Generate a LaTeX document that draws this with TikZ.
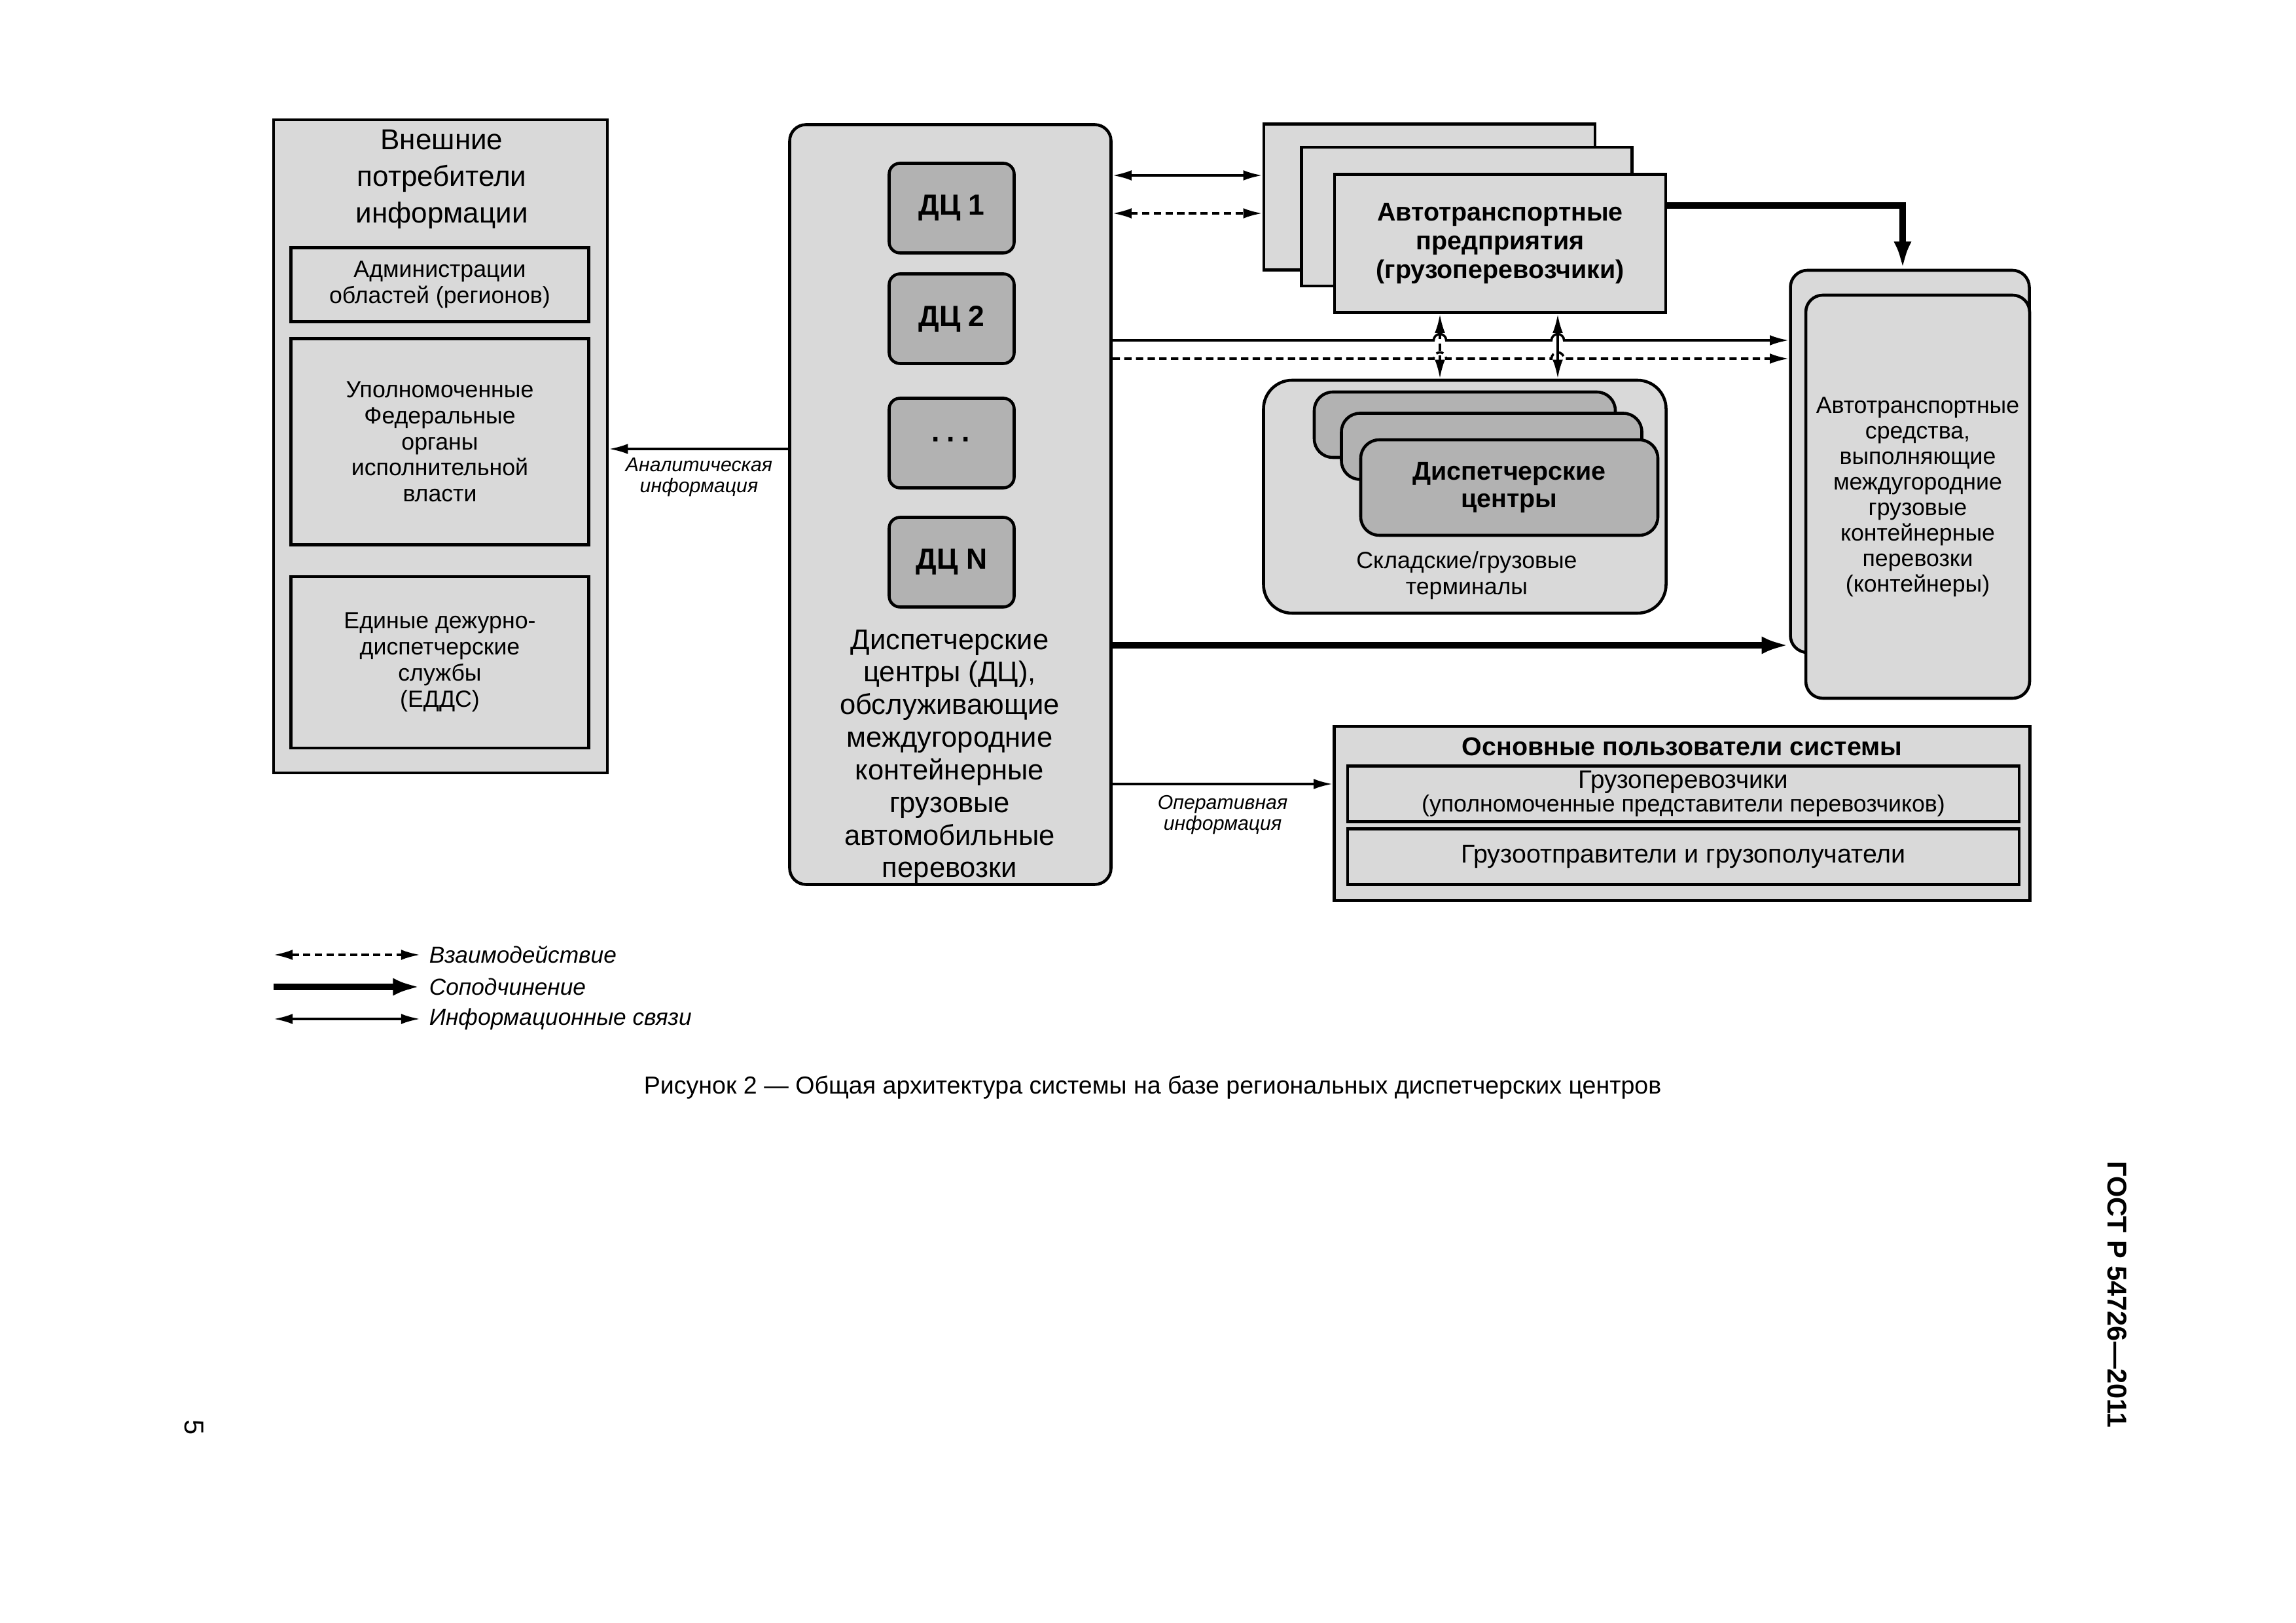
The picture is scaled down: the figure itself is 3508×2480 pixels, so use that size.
\documentclass[tikz,border=0pt]{standalone}
\usepackage{fontspec}
\setmainfont{Liberation Sans}
\usetikzlibrary{arrows.meta}

\begin{document}
\begin{tikzpicture}[x=0.0846667mm, y=-0.0846667mm, >={Latex[length=7pt,width=3.8pt]}]

% Define pixel length and hop radius
\def\px{0.0846667mm}
\def\hop{2.3pt}

% Define box colors
\definecolor{lightbox}{RGB}{217,217,217}
\definecolor{darkbox}{RGB}{178,178,178}

\tikzset{
  box/.style={draw, line width=1.1pt, fill=lightbox, inner sep=0pt, align=center},
  dcbox/.style={box, fill=darkbox, rounded corners=2.4mm},
  wh/.style 2 args={minimum width=#1*\px, minimum height=#2*\px},
  txt/.style={align=center, inner sep=0pt},
  note/.style={txt, font=\itshape\fontsize{7.3}{7.8}\selectfont},
  info/.style={line width=0.85pt},
  inter/.style={line width=0.85pt, dash pattern=on 2.7pt off 1.6pt},
  subord/.style={line width=2.2pt, -{Latex[length=10pt,width=6.5pt]}},
}

% Page frame
\useasboundingbox (0,0) rectangle (3508,2480);

% Draw external consumers of information
\node[box, wh={510}{998}] (ext) at (673,682) {};
\node[txt, font=\fontsize{10.6}{13.4}\selectfont] (extTitle) at (675,274) {Внешние\\потребители\\информации};
\node[box, wh={455}{113}, font=\fontsize{8.6}{9.6}\selectfont] (adm) at (672,435) {Администрации\\областей (регионов)};
\node[box, wh={455}{315}, font=\fontsize{8.6}{9.6}\selectfont] (fed) at (672,675) {Уполномоченные\\Федеральные\\органы\\исполнительной\\власти};
\node[box, wh={455}{262}, font=\fontsize{8.6}{9.6}\selectfont] (edds) at (672,1012) {Единые дежурно-\\диспетчерские\\службы\\(ЕДДС)};

% Draw dispatch centers block
\node[box, rounded corners=2.1mm, wh={491}{1161}] (dcs) at (1452,771) {};
\foreach \name/\txt/\ypos in {dc1/ДЦ 1/318, dc2/ДЦ 2/487, dcdots/{·\kern2pt·\kern2pt·}/677, dcn/ДЦ N/859}
  \node[dcbox, rounded corners=1.4mm, wh={191}{137}, font=\bfseries\fontsize{10.7}{13}\selectfont] (\name) at (1454,\ypos) {\txt};
\node[txt, font=\fontsize{10.5}{12}\selectfont] (dcsText) at (1451,1156) {Диспетчерские\\центры (ДЦ),\\обслуживающие\\междугородние\\контейнерные\\грузовые\\автомобильные\\перевозки};

% Draw motor transport enterprises as a stack
\node[box, wh={506}{223}] (at3) at (2184,301) {};
\node[box, wh={505}{212}] (at2) at (2241,331) {};
\node[box, wh={506}{211}, font=\bfseries\fontsize{9.5}{10.6}\selectfont] (at1) at (2292,372) {Автотранспортные\\предприятия\\(грузоперевозчики)};

% Draw vehicles as a stack
\node[box, rounded corners=2.2mm, wh={365}{584}] (veh2) at (2918,705) {};
\node[box, rounded corners=2.2mm, wh={342}{616}, font=\fontsize{8.6}{9.4}\selectfont] (veh1) at (2930,759) {Автотранспортные\\средства,\\выполняющие\\междугородние\\грузовые\\контейнерные\\перевозки\\(контейнеры)};

% Draw warehouse terminals with their dispatch centers
\node[box, rounded corners=3.7mm, wh={615}{356}] (term) at (2238,759) {};
\node[dcbox, wh={460}{100}] (tdc3) at (2238,649) {};
\node[dcbox, wh={459}{101}] (tdc2) at (2279,682) {};
\node[dcbox, wh={454}{146}, font=\bfseries\fontsize{9.5}{10.3}\selectfont] (tdc1) at (2306,745) {Диспетчерские\\центры};
\node[txt, font=\fontsize{8.6}{9.6}\selectfont] (termText) at (2241,879) {Складские/грузовые\\терминалы};

% Draw main users of the system
\node[box, wh={1063}{266}] (users) at (2570,1243) {};
\node[txt, font=\bfseries\fontsize{9.5}{11}\selectfont] (usersTitle) at (2570,1141) {Основные пользователи системы};
\node[box, wh={1026}{85}, font=\fontsize{8.6}{8.7}\selectfont] (carriers) at (2572,1213) {{\fontsize{9.3}{9}\selectfont Грузоперевозчики}\\(уполномоченные представители перевозчиков)};
\node[box, wh={1026}{85}, font=\fontsize{9.5}{10}\selectfont] (shippers) at (2572,1309) {Грузоотправители и грузополучатели};

% Levels and columns of the connectors
\coordinate (yAnal) at (0,686);
\coordinate (yATinfo) at (0,268);
\coordinate (yATinter) at (0,326);
\coordinate (ySub) at (0,314);
\coordinate (xSub) at (2907,0);
\coordinate (yInfo) at (0,520);
\coordinate (yInter) at (0,548);
\coordinate (xV1) at (2200,0);
\coordinate (xV2) at (2380,0);
\coordinate (ySub2) at (0,986);
\coordinate (yOper) at (0,1198);
\coordinate (hopA1) at (xV1 |- yInfo);
\coordinate (hopB1) at (xV2 |- yInfo);
\coordinate (hopA2) at (xV1 |- yInter);
\coordinate (hopB2) at (xV2 |- yInter);

% Analytic information to external consumers
\draw[info, ->] (dcs.west |- yAnal) -- (ext.east |- yAnal);
\node[note] (analLbl) at (1068,729) {Аналитическая\\информация};

% Links with motor transport enterprises
\draw[info, <->] (dcs.east |- yATinfo) -- (at3.west |- yATinfo);
\draw[inter, <->] (dcs.east |- yATinter) -- (at3.west |- yATinter);
\draw[subord] (at1.east |- ySub) -| (xSub |- veh2.north);

% Links to vehicles, hopping over the vertical arrows
\draw[info, ->] (dcs.east |- yInfo) -- ([xshift=-\hop]hopA1) arc[start angle=180, end angle=0, radius=\hop]
  -- ([xshift=-\hop]hopB1) arc[start angle=180, end angle=0, radius=\hop] -- (veh2.west |- yInfo);
\draw[inter, ->] (dcs.east |- yInter) -- ([xshift=-\hop]hopA2) arc[start angle=180, end angle=0, radius=\hop]
  -- ([xshift=-\hop]hopB2) arc[start angle=180, end angle=0, radius=\hop] -- (veh2.west |- yInter);
\draw[subord] (dcs.east |- ySub2) -- (veh2.west |- ySub2);

% Enterprises and terminals
\draw[inter, <->] (at1.south -| xV1) -- (term.north -| xV1);
\draw[info, <->] (at1.south -| xV2) -- (term.north -| xV2);

% Operative information to users
\draw[info, ->] (dcs.east |- yOper) -- (users.west |- yOper);
\node[note] (operLbl) at (1868,1245) {Оперативная\\информация};

% Legend
\coordinate (legA) at (418,1459);
\coordinate (legB) at (418,1508);
\coordinate (legC) at (418,1557);
\node[txt, anchor=west, inner xsep=13*\px, font=\itshape\fontsize{8.5}{10}\selectfont] (legInter) at (642,1459) {Взаимодействие};
\node[txt, anchor=west, inner xsep=13*\px, font=\itshape\fontsize{8.5}{10}\selectfont] (legSub) at (642,1508) {Соподчинение};
\node[txt, anchor=west, inner xsep=13*\px, font=\itshape\fontsize{8.5}{10}\selectfont] (legInfo) at (642,1557) {Информационные связи};
\draw[inter, <->] (legA) -- (legInter.west);
\draw[subord] (legB) -- (legSub.west);
\draw[info, <->] (legC) -- (legInfo.west);

% Caption, standard number and page number
\node[txt, font=\fontsize{9.05}{11}\selectfont] (caption) at (1761,1662) {Рисунок 2 — Общая архитектура системы на базе региональных диспетчерских центров};
\node[txt, rotate=-90, font=\bfseries\fontsize{10}{12}\selectfont] (gost) at (3235,1978) {ГОСТ Р 54726—2011};
\node[txt, rotate=-90, font=\fontsize{10}{12}\selectfont] (pageNo) at (297,2181) {5};

\end{tikzpicture}
\end{document}
